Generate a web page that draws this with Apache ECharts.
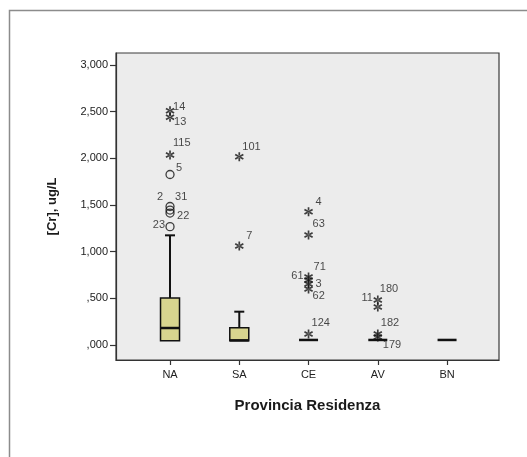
<!DOCTYPE html>
<html>
<head>
<meta charset="utf-8">
<script src="https://cdn.jsdelivr.net/npm/echarts@6/dist/echarts.min.js"></script>
<style>
html,body{margin:0;padding:0;background:#fff}
#chart{width:527px;height:457px}
</style>
</head>
<body>
<div id="chart"></div>
<script>
// Chromium concentration by province of residence
const provinces = ['NA', 'SA', 'CE', 'AV', 'BN'];

// box summaries per province (lower whisker, Q1, median, Q3, upper whisker)
const boxMin    = [46, 46, 54, 54, 54];
const boxQ1     = [46, 46, 54, 54, 54];
const boxMedian = [182, 50, 54, 54, 54];
const boxQ3     = [503, 186, 54, 54, 54];
const boxMax    = [1175, 357, 54, 54, 54];

// outliers (circles): province index, value, case number
const outProv = [0, 0, 0, 0, 0];
const outVal  = [1827, 1484, 1446, 1414, 1268];
const outCase = ['5', '2', '31', '22', '23'];

// extreme values (asterisks): province index, value, case number
const extProv = [0, 0, 0, 1, 1, 2, 2, 2, 2, 2, 2, 2, 3, 3, 3, 3];
const extVal  = [2510, 2440, 2036, 2017, 1060, 1428, 1178, 729, 696, 654, 600, 118, 482, 407, 118, 86];
const extCase = ['14', '13', '115', '101', '7', '4', '63', '71', '61', '3', '62', '124', '11', '180', '182', '179'];

// y axis tick values
const yTicks = [0, 500, 1000, 1500, 2000, 2500, 3000];

// where each case label sits next to its marker: [dx, dy, align]
const caseLabelPlace = {
  '14': [3, -4, 'left'], '13': [4, 5, 'left'], '115': [3, -12, 'left'],
  '5': [6, -7, 'left'], '2': [-7, -10, 'right'], '31': [5, -13, 'left'],
  '22': [7, 3, 'left'], '23': [-5, -2, 'right'],
  '101': [3, -10, 'left'], '7': [7, -10, 'left'],
  '4': [7, -10, 'left'], '63': [4, -11, 'left'], '71': [5, -10, 'left'],
  '61': [-5, -4, 'right'], '3': [7, 0, 'left'], '62': [4, 7, 'left'],
  '124': [3, -11, 'left'],
  '11': [-5, -2, 'right'], '180': [2, -18, 'left'], '182': [3, -11, 'left'],
  '179': [5, 8, 'left']
};

const FONT = 'Arial, "Liberation Sans", sans-serif';

function yLabel(v) {
  if (v < 1000) return ',' + String(v).padStart(3, '0');
  const t = Math.floor(v / 1000);
  return t + ',' + String(v % 1000).padStart(3, '0');
}

const boxData = provinces.map((p, i) => [i, boxMin[i], boxQ1[i], boxMedian[i], boxQ3[i], boxMax[i]]);

function pointItems(provIdx, vals, cases) {
  return vals.map((v, i) => {
    const pl = caseLabelPlace[cases[i]] || [4, 0, 'left'];
    return {
      value: [provIdx[i], v],
      name: cases[i],
      label: { offset: [pl[0], pl[1]], align: pl[2] }
    };
  });
}

// six-spoke asterisk marker
const asterisk = 'path://M-0.9,5L0.9,5L0.9,-5L-0.9,-5Z' +
  'M-4.78,-1.720L-3.88,-3.279L4.78,1.720L3.88,3.279Z' +
  'M3.88,-3.279L4.78,-1.720L-3.88,3.279L-4.78,1.720Z';

function renderBox(params, api) {
  const x = api.value(0);
  const pMin = api.coord([x, api.value(1)]);
  const pQ1 = api.coord([x, api.value(2)]);
  const pMed = api.coord([x, api.value(3)]);
  const pQ3 = api.coord([x, api.value(4)]);
  const pMax = api.coord([x, api.value(5)]);
  const cx = pMed[0];
  const hw = 9.5, cap = 5;
  const stroke = '#111';
  const children = [];
  if (pMax[1] < pQ3[1] - 0.5) {
    children.push({ type: 'line', shape: { x1: cx, y1: pQ3[1], x2: cx, y2: pMax[1] }, style: { stroke, lineWidth: 2 } });
    children.push({ type: 'line', shape: { x1: cx - cap, y1: pMax[1], x2: cx + cap, y2: pMax[1] }, style: { stroke, lineWidth: 2 } });
  }
  if (pMin[1] > pQ1[1] + 0.5) {
    children.push({ type: 'line', shape: { x1: cx, y1: pQ1[1], x2: cx, y2: pMin[1] }, style: { stroke, lineWidth: 2 } });
    children.push({ type: 'line', shape: { x1: cx - cap, y1: pMin[1], x2: cx + cap, y2: pMin[1] }, style: { stroke, lineWidth: 2 } });
  }
  if (pQ1[1] - pQ3[1] > 0.5) {
    children.push({
      type: 'rect',
      shape: { x: cx - hw, y: pQ3[1], width: hw * 2, height: pQ1[1] - pQ3[1] },
      style: { fill: '#d8d58f', stroke, lineWidth: 1.5 }
    });
  }
  children.push({ type: 'line', shape: { x1: cx - hw, y1: pMed[1], x2: cx + hw, y2: pMed[1] }, style: { stroke, lineWidth: 2.5 } });
  return { type: 'group', children };
}

const pointLabel = {
  show: true,
  position: 'inside',
  verticalAlign: 'middle',
  formatter: p => p.name,
  color: '#1a1a1a',
  fontSize: 11,
  fontFamily: FONT
};

const chart = echarts.init(document.getElementById('chart'), null, { renderer: 'canvas' });
chart.setOption({
  animation: false,
  backgroundColor: '#fff',
  graphic: [{
    type: 'polyline',
    shape: { points: [[9.5, 457], [9.5, 10.5], [527, 10.5]] },
    style: { stroke: '#8c8c8c', lineWidth: 1.5, fill: null },
    silent: true
  }],
  grid: {
    left: 116, right: 28, top: 53, bottom: 97,
    show: true, backgroundColor: '#ececec', borderColor: '#3a3a3a', borderWidth: 1.2
  },
  xAxis: {
    type: 'value',
    min: -0.78, max: 4.75,
    name: 'Provincia Residenza',
    nameLocation: 'middle',
    nameGap: 38,
    nameTextStyle: { fontSize: 15, fontWeight: 'bold', color: '#1a1a1a', fontFamily: FONT },
    axisLine: { show: true, onZero: false, lineStyle: { color: '#333', width: 1.2 } },
    axisTick: { show: true, length: 5, customValues: [0, 1, 2, 3, 4], lineStyle: { color: '#333', width: 1.2 } },
    axisLabel: {
      customValues: [0, 1, 2, 3, 4],
      formatter: v => provinces[Math.round(v)],
      fontSize: 11, color: '#222', margin: 9, fontFamily: FONT
    },
    splitLine: { show: false }
  },
  yAxis: {
    type: 'value',
    min: -160.7, max: 3128.6,
    name: '[Cr], ug/L',
    nameLocation: 'middle',
    nameGap: 57,
    nameTextStyle: { fontSize: 13, fontWeight: 'bold', color: '#1a1a1a', fontFamily: FONT },
    axisLine: { show: true, onZero: false, lineStyle: { color: '#333', width: 1.2 } },
    axisTick: { show: true, length: 6, customValues: yTicks, lineStyle: { color: '#333', width: 1.2 } },
    axisLabel: {
      customValues: yTicks,
      formatter: v => yLabel(Math.round(v)),
      fontSize: 11, color: '#222', margin: 8, fontFamily: FONT
    },
    splitLine: { show: false }
  },
  series: [
    {
      type: 'custom',
      renderItem: renderBox,
      data: boxData,
      encode: { x: 0, y: [1, 2, 3, 4, 5] },
      z: 2
    },
    {
      type: 'scatter',
      symbol: 'circle',
      symbolSize: 8,
      itemStyle: { color: 'rgba(0,0,0,0)', borderColor: '#111', borderWidth: 1.3 },
      label: pointLabel,
      data: pointItems(outProv, outVal, outCase),
      z: 3
    },
    {
      type: 'scatter',
      symbol: asterisk,
      symbolSize: 9,
      itemStyle: { color: '#111' },
      label: pointLabel,
      data: pointItems(extProv, extVal, extCase),
      z: 3
    }
  ]
});
</script>
</body>
</html>
